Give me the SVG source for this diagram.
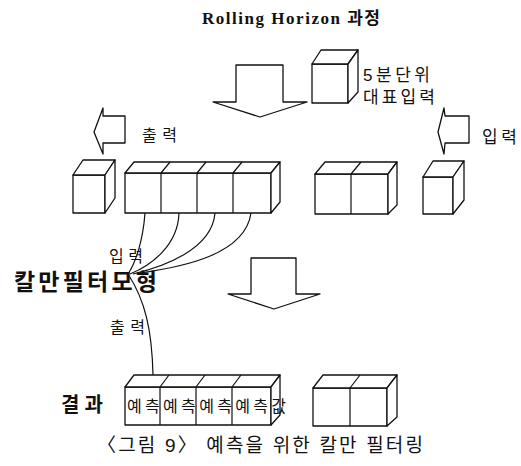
<svg xmlns="http://www.w3.org/2000/svg" width="521" height="466" viewBox="0 0 521 466">
<style>
.ln{fill:#fff;stroke:#111;stroke-width:1.3;stroke-linejoin:round}
.cv{fill:none;stroke:#111;stroke-width:1.2}
.t{font-family:"Liberation Sans","Noto Sans CJK KR",sans-serif;fill:#111}
.b{font-weight:bold}
</style>
<rect width="521" height="466" fill="#fff"/>
<text id="title" x="202" y="24" class="b" style="font-family:'Liberation Serif','Noto Sans CJK KR',serif;font-size:17px;fill:#111" textLength="178" lengthAdjust="spacing">Rolling Horizon 과정</text>

<g id="arrow-top"><polygon class="ln" points="236,65 283,65 283,102 307,102 260,117 213,102 236,102"/></g>
<g id="cube-top">
<rect class="ln" x="312" y="64" width="36" height="39"/>
<path class="ln" d="M312,64 L321,50 L358,50 L348,64 Z"/>
<path class="ln" d="M348,64 L358,50 L358,92 L348,103 Z"/>
</g>
<text class="t" x="363" y="81" font-size="17" textLength="67" lengthAdjust="spacing">5분단위</text>
<text class="t" x="363" y="103" font-size="17" textLength="72" lengthAdjust="spacing">대표입력</text>

<g id="arrow-out"><polygon class="ln" points="125,116 125,143 103,143 103,154 94,132 103,108 103,116"/></g>
<text class="t" x="142" y="141" font-size="16" textLength="35" lengthAdjust="spacing">출력</text>
<g id="arrow-in"><polygon class="ln" points="469,116 469,143 445,143 444,154 438,132 444,108 445,116"/></g>
<text class="t" x="482" y="143" font-size="17" textLength="35" lengthAdjust="spacing">입력</text>

<g id="cube-left">
<rect class="ln" x="73" y="175" width="32" height="38"/>
<path class="ln" d="M73,175 L83,160 L115,160 L105,175 Z"/>
<path class="ln" d="M105,175 L115,160 L115,198 L105,213 Z"/>
</g>
<g id="bar-window">
<rect class="ln" x="125" y="173" width="146" height="40"/>
<path class="ln" d="M125,173 L134,162 L280,162 L271,173 Z"/>
<path class="ln" d="M271,173 L280,162 L280,202 L271,213 Z"/>
<path class="cv" d="M161,173 V213 M197,173 V213 M233,173 V213 M161,173 L170,162 M197,173 L206,162 M233,173 L242,162"/>
</g>
<g id="cubes-right">
<rect class="ln" x="315" y="174" width="73" height="40"/>
<path class="ln" d="M315,174 L325,162 L397,162 L388,174 Z"/>
<path class="ln" d="M388,174 L397,162 L397,205 L388,214 Z"/>
<path class="cv" d="M351,174 V214 M351,174 L361,162"/>
</g>
<g id="cube-right">
<rect class="ln" x="423" y="177" width="30" height="37"/>
<path class="ln" d="M423,177 L433,161 L464,161 L453,177 Z"/>
<path class="ln" d="M453,177 L464,161 L464,200 L453,214 Z"/>
</g>

<g id="connectors">
<path class="cv" d="M145,213 C143,240 136,262 128,274"/>
<path class="cv" d="M179,213 C178,245 152,265 130,274"/>
<path class="cv" d="M215,213 C212,250 162,267 133,274"/>
<path class="cv" d="M251,213 C245,255 182,267 140,273"/>
<path class="cv" d="M128,274 C145,300 152,330 153,375"/>
</g>

<text class="t" x="109" y="262" font-size="16" textLength="34" lengthAdjust="spacing">입력</text>
<g id="kalman"><text class="t b" x="14" y="290" font-size="23" textLength="143" lengthAdjust="spacing">칼만필터모형</text></g>
<text class="t" x="110" y="333" font-size="16" textLength="35" lengthAdjust="spacing">출력</text>

<g id="arrow-mid"><polygon class="ln" points="251,258 296,258 296,294 320,294 274,309 228,294 251,294"/></g>

<text class="t b" x="61" y="412" font-size="20" textLength="42" lengthAdjust="spacing">결과</text>
<g id="bar-result">
<rect class="ln" x="125" y="387" width="146" height="38"/>
<path class="ln" d="M125,387 L134,375 L280,375 L271,387 Z"/>
<path class="ln" d="M271,387 L280,375 L280,415 L271,425 Z"/>
<path class="cv" d="M160,387 V425 M196,387 V425 M232,387 V425 M160,387 L169,375 M196,387 L205,375 M232,387 L241,375"/>
<text class="t" x="127" y="412" font-size="16" textLength="159" lengthAdjust="spacing">예측예측예측예측값</text>
</g>
<g id="cubes-result-right">
<rect class="ln" x="313" y="388" width="74" height="38"/>
<path class="ln" d="M313,388 L323,375 L397,375 L387,388 Z"/>
<path class="ln" d="M387,388 L397,375 L397,417 L387,426 Z"/>
<path class="cv" d="M350,388 V426 M350,388 L360,375"/>
</g>

<text class="t" x="97" y="452" font-size="19" textLength="326" lengthAdjust="spacing">〈그림 9〉 예측을 위한 칼만 필터링</text>
</svg>
